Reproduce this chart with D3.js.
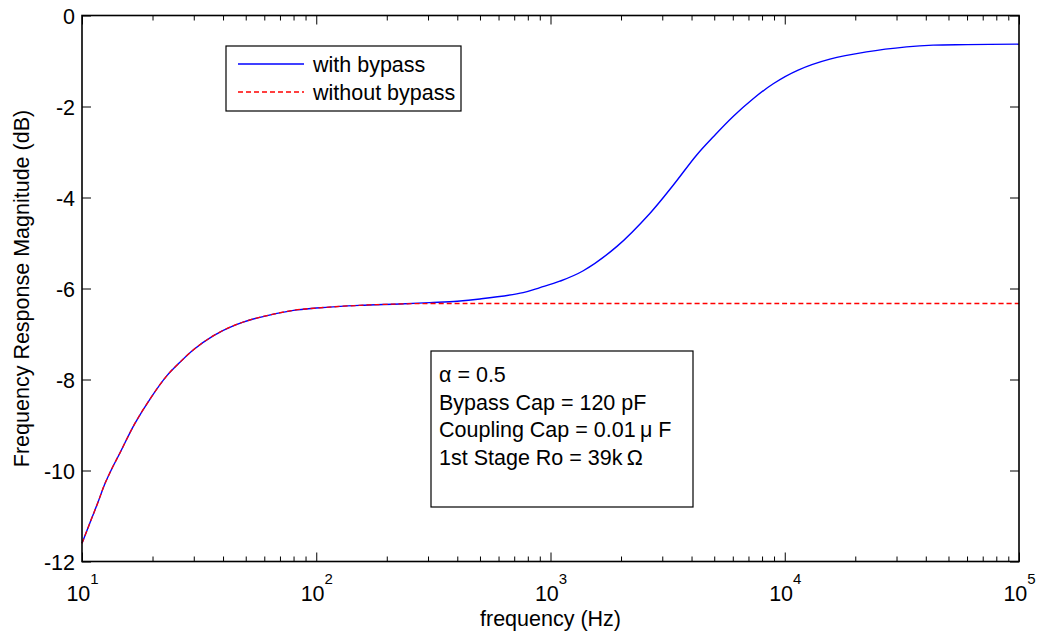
<!DOCTYPE html>
<html>
<head>
<meta charset="utf-8">
<script src="https://cdn.jsdelivr.net/npm/d3@7"></script>
<style>
  body { margin: 0; background: #fff; }
  svg { display: block; font-family: "Liberation Sans", Arial, sans-serif; }
  .axis path, .axis line { stroke: #000; }
  .axis text { fill: #000; }
</style>
</head>
<body>
<div class="dataviz"></div>
<script>
// frequencies (Hz) and magnitudes (dB)
const freqs = [10, 10.5, 11, 11.7, 12.5, 13.5, 14.5, 16.8, 19.8, 23, 26.2, 30, 36.3, 44.2, 55.7, 80, 100, 153, 227, 305, 400, 500, 764, 902, 1096, 1380, 1916, 2655, 3340, 4200, 4945, 6020, 7330, 8930, 11410, 15580, 22340, 33100, 43000, 60000, 100000]
const withBypass = [-11.6, -11.32, -11.05, -10.7, -10.3, -9.93, -9.62, -8.97, -8.38, -7.92, -7.62, -7.34, -7.04, -6.82, -6.65, -6.48, -6.43, -6.37, -6.34, -6.31, -6.28, -6.23, -6.09, -5.98, -5.84, -5.61, -5.08, -4.35, -3.73, -3.07, -2.67, -2.22, -1.83, -1.5, -1.2, -0.96, -0.8, -0.69, -0.65, -0.64, -0.63]
const withoutBypass = [-11.6, -11.32, -11.05, -10.7, -10.3, -9.93, -9.62, -8.97, -8.38, -7.92, -7.62, -7.34, -7.04, -6.82, -6.65, -6.48, -6.43, -6.37, -6.34, -6.33, -6.33, -6.33, -6.33, -6.33, -6.33, -6.33, -6.33, -6.33, -6.33, -6.33, -6.33, -6.33, -6.33, -6.33, -6.33, -6.33, -6.33, -6.33, -6.33, -6.33, -6.33]
const xMajor = [10, 100, 1000, 10000, 100000]
const yTicks = [-12, -10, -8, -6, -4, -2, 0]
const legendLabels = ['with bypass', 'without bypass']
const noteLines = ['\u03b1 = 0.5', 'Bypass Cap = 120 pF', 'Coupling Cap = 0.01\u2009\u03bc F', '1st Stage Ro = 39k\u2009\u03a9']

const width = 1038
const height = 636
const plotL = 82, plotR = 1019, plotT = 15.5, plotB = 561.5

const svg = d3.select('.dataviz').append('svg').attr('width', width).attr('height', height)

const x = d3.scaleLog().domain([10, 1e5]).range([plotL, plotR])
const y = d3.scaleLinear().domain([-12, 0]).range([plotB, plotT])

// minor ticks for the log axis
const xMinor = []
xMajor.slice(0, -1).forEach(d => { for (let k = 2; k < 10; k++) xMinor.push(d * k) })

const font = 21.5

// lines
const line = d3.line().curve(d3.curveCatmullRom.alpha(0.5)).x(d => x(d[0])).y(d => y(d[1]))

svg.append('path')
  .datum(freqs.map((f, i) => [f, withBypass[i]]))
  .attr('fill', 'none').attr('stroke', '#0000ff').attr('stroke-width', 1.4)
  .attr('d', line)

svg.append('path')
  .datum(freqs.map((f, i) => [f, withoutBypass[i]]))
  .attr('fill', 'none').attr('stroke', '#ff0000').attr('stroke-width', 1.3)
  .attr('stroke-dasharray', '5,3')
  .attr('d', line)

// axes (ticks point inward on all four sides)
const addX = (pos, axisFn) => {
  svg.append('g').attr('class', 'axis').attr('transform', `translate(0,${pos})`)
    .call(axisFn(x).tickValues(xMinor).tickSize(-5).tickFormat(''))
    .call(g => g.select('.domain').remove())
  return svg.append('g').attr('class', 'axis').attr('transform', `translate(0,${pos})`)
    .call(axisFn(x).tickValues(xMajor).tickSize(-9).tickFormat(''))
    .call(g => g.select('.domain').remove())
}

const xb = addX(plotB, d3.axisBottom)
addX(plotT, d3.axisTop)

xb.selectAll('.tick text').remove()
xb.selectAll('.tick').append('text')
  .attr('y', 39).attr('text-anchor', 'middle').attr('font-size', font).attr('fill', '#000')
  .call(t => {
    t.append('tspan').text('10')
    t.append('tspan').attr('dy', -17).attr('font-size', 15).text(d => Math.round(Math.log10(d)))
  })

svg.append('g').attr('class', 'axis').attr('transform', `translate(${plotL},0)`)
  .call(d3.axisLeft(y).tickValues(yTicks).tickSize(-9).tickPadding(7).tickFormat(d => String(d)))
  .call(g => g.select('.domain').remove())
  .selectAll('text').attr('font-size', font).attr('dy', '0.35em')

svg.append('g').attr('class', 'axis').attr('transform', `translate(${plotR},0)`)
  .call(d3.axisRight(y).tickValues(yTicks).tickSize(-9).tickFormat(''))
  .call(g => g.select('.domain').remove())

// frame
svg.append('rect')
  .attr('x', plotL).attr('y', plotT).attr('width', plotR - plotL).attr('height', plotB - plotT)
  .attr('fill', 'none').attr('stroke', '#000').attr('stroke-width', 1.6)

// axis labels
svg.append('text')
  .attr('x', (plotL + plotR) / 2).attr('y', 626)
  .attr('text-anchor', 'middle').attr('font-size', font)
  .text('frequency (Hz)')

svg.append('text')
  .attr('transform', `translate(29, ${(plotT + plotB) / 2}) rotate(-90)`)
  .attr('text-anchor', 'middle').attr('font-size', font)
  .text('Frequency Response Magnitude (dB)')

// legend
const legend = svg.append('g')
legend.append('rect')
  .attr('x', 226).attr('y', 46).attr('width', 235).attr('height', 65)
  .attr('fill', '#fff').attr('stroke', '#000').attr('stroke-width', 1.2)
const legendStyles = [
  { color: '#0000ff', dash: null },
  { color: '#ff0000', dash: '5,3' }
]
legendLabels.forEach((label, i) => {
  const ly = 64 + i * 28
  legend.append('line')
    .attr('x1', 238).attr('x2', 304).attr('y1', ly).attr('y2', ly)
    .attr('stroke', legendStyles[i].color).attr('stroke-width', 1.3)
    .attr('stroke-dasharray', legendStyles[i].dash)
  legend.append('text')
    .attr('x', 313).attr('y', ly).attr('dy', '0.35em')
    .attr('font-size', font).text(label)
})

// parameter note
const note = svg.append('g')
note.append('rect')
  .attr('x', 431).attr('y', 351).attr('width', 262).attr('height', 156)
  .attr('fill', '#fff').attr('stroke', '#000').attr('stroke-width', 1.2)
noteLines.forEach((txt, i) => {
  note.append('text')
    .attr('x', 439).attr('y', 382 + i * 27.7)
    .attr('font-size', font).text(txt)
})
</script>
</body>
</html>
